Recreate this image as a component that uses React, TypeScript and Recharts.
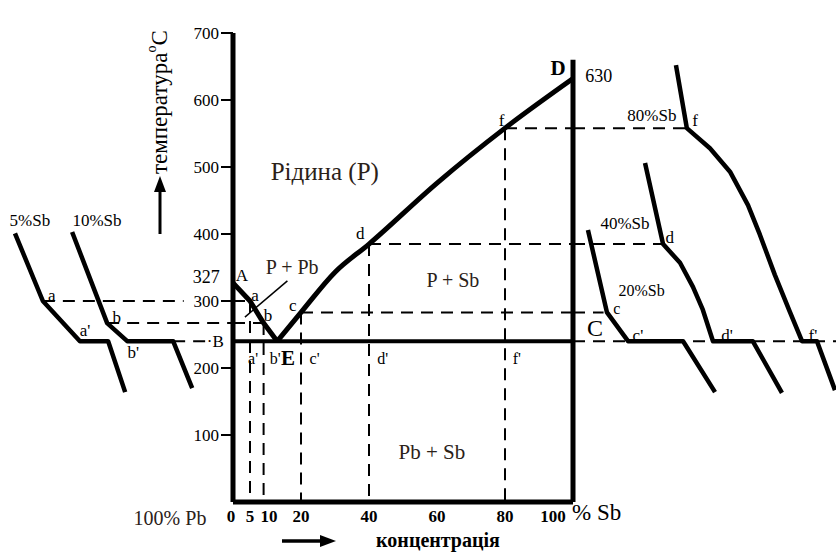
import React from "react";
import { ComposedChart, Line, XAxis, YAxis, ReferenceDot } from "recharts";

const FONT = "'Liberation Serif', 'Times New Roman', serif";
const INK = "#000";
const BROWN = "#2b2118";

// Main phase diagram (x = % Sb, T = temperature °C)
const ticksX = [0, 5, 10, 20, 40, 60, 80, 100];
const ticksY = [100, 200, 300, 400, 500, 600, 700];
const liquidusLeft = [
  { x: 0, T: 327 },
  { x: 5, T: 300 },
  { x: 9, T: 267 },
  { x: 13, T: 240 },
];
const liquidusRight = [
  { x: 13, T: 240 },
  { x: 20, T: 283 },
  { x: 30, T: 343 },
  { x: 40, T: 385 },
  { x: 60, T: 476 },
  { x: 80, T: 558 },
  { x: 100, T: 632 },
];
const eutectic = [
  { x: 0, T: 240 },
  { x: 100, T: 240 },
];
const baseLine = [
  { x: 0, T: 0 },
  { x: 100, T: 0 },
];
const sbLine = [
  { x: 100, T: 0 },
  { x: 100, T: 660 },
];
const leader = [
  { x: 3.5, T: 276 },
  { x: 16, T: 330 },
];
const compositions = [
  { x: 5, T: 300 },
  { x: 9, T: 267 },
  { x: 20, T: 283 },
  { x: 40, T: 385 },
  { x: 80, T: 558 },
];
const mainHoriz = [
  [{ x: 0, T: 300 }, { x: 5, T: 300 }],
  [{ x: 0, T: 267 }, { x: 9, T: 267 }],
  [{ x: 20, T: 283 }, { x: 100, T: 283 }],
  [{ x: 40, T: 385 }, { x: 100, T: 385 }],
  [{ x: 80, T: 558 }, { x: 100, T: 558 }],
];
const mainLabels = [
  { x: 27, T: 493, text: "Рідина (P)", size: 25, color: BROWN },
  { x: 17.4, T: 351, text: "P + Pb", size: 20, color: BROWN },
  { x: 64.7, T: 331, text: "P + Sb", size: 20, color: BROWN },
  { x: 58.5, T: 75, text: "Pb + Sb", size: 21, color: BROWN },
  { x: 2.6, T: 339, text: "A", size: 17, color: INK },
  { x: 6.5, T: 309, text: "a", size: 17, color: INK },
  { x: 10.3, T: 279, text: "b", size: 17, color: INK },
  { x: 17.6, T: 294, text: "c", size: 17, color: INK },
  { x: 37.4, T: 401, text: "d", size: 17, color: INK },
  { x: 79, T: 570, text: "f", size: 17, color: INK },
  { x: 95.6, T: 648, text: "D", size: 21, color: INK, bold: true },
  { x: 16.2, T: 215, text: "E", size: 21, color: INK, bold: true },
  { x: 5.9, T: 215, text: "a'", size: 16, color: INK },
  { x: 12.4, T: 215, text: "b'", size: 16, color: INK },
  { x: 24, T: 215, text: "c'", size: 16, color: INK },
  { x: 44, T: 215, text: "d'", size: 16, color: INK },
  { x: 83.5, T: 215, text: "f'", size: 16, color: INK },
];

// Left cooling curves (t = time, T = temperature °C)
const cool5 = [
  { t: 4.4, T: 401 },
  { t: 12.6, T: 300 },
  { t: 23.5, T: 240 },
  { t: 31.8, T: 240 },
  { t: 36.8, T: 164 },
];
const cool10 = [
  { t: 21.2, T: 403 },
  { t: 31.5, T: 267 },
  { t: 37.4, T: 240 },
  { t: 50.9, T: 240 },
  { t: 56.5, T: 170 },
];
const leftDashed = [
  [{ t: 12.6, T: 300 }, { t: 54, T: 300 }],
  [{ t: 31.5, T: 267 }, { t: 68.5, T: 267 }],
  [{ t: 50.9, T: 240 }, { t: 61.5, T: 240 }],
];
const leftLabels = [
  { t: 8.8, T: 421, text: "5%Sb", size: 17 },
  { t: 28.5, T: 421, text: "10%Sb", size: 17 },
  { t: 15.2, T: 309, text: "a", size: 17 },
  { t: 25, T: 257, text: "a'", size: 17 },
  { t: 34.3, T: 276, text: "b", size: 17 },
  { t: 39.2, T: 224, text: "b'", size: 17 },
  { t: 60.6, T: 336, text: "327", size: 18 },
  { t: 63.3, T: 240, text: "·B", size: 17 },
];

// Right cooling curves
const cool20 = [
  { t: 4.4, T: 406 },
  { t: 10, T: 283 },
  { t: 16.2, T: 240 },
  { t: 32.4, T: 240 },
  { t: 41.8, T: 164 },
];
const cool40 = [
  { t: 21.2, T: 506 },
  { t: 26.5, T: 385 },
  { t: 31.5, T: 357 },
  { t: 35.3, T: 321 },
  { t: 38.2, T: 287 },
  { t: 41.2, T: 240 },
  { t: 52.9, T: 240 },
  { t: 61.5, T: 163 },
];
const cool80 = [
  { t: 30.3, T: 652 },
  { t: 33.5, T: 558 },
  { t: 40.3, T: 528 },
  { t: 46.2, T: 493 },
  { t: 51.5, T: 443 },
  { t: 55, T: 399 },
  { t: 59.4, T: 339 },
  { t: 63.8, T: 284 },
  { t: 67.4, T: 240 },
  { t: 71.8, T: 240 },
  { t: 77.1, T: 167 },
];
const rightDashed = [
  [{ t: 0, T: 558 }, { t: 33.5, T: 558 }],
  [{ t: 0, T: 385 }, { t: 26.5, T: 385 }],
  [{ t: 0, T: 283 }, { t: 9, T: 283 }],
  [{ t: 0, T: 240 }, { t: 77.4, T: 240 }],
];
const rightLabels = [
  { t: 7.6, T: 637, text: "630", size: 18 },
  { t: 23.2, T: 578, text: "80%Sb", size: 17 },
  { t: 35.9, T: 570, text: "f", size: 17 },
  { t: 15.3, T: 416, text: "40%Sb", size: 17 },
  { t: 28.5, T: 396, text: "d", size: 17 },
  { t: 20.2, T: 316, text: "20%Sb", size: 16 },
  { t: 12.9, T: 289, text: "c", size: 16 },
  { t: 6.5, T: 260, text: "C", size: 24 },
  { t: 19.1, T: 249, text: "c'", size: 17 },
  { t: 45.3, T: 249, text: "d'", size: 17 },
  { t: 70.6, T: 249, text: "f'", size: 17 },
];

const W = 836;
const H = 553;
const TOP = 33;
const BOTTOM = 51;
const DASH = "12 8";

const textShape = (text: string, size: number, color: string, bold?: boolean) => (p: any) => (
  <text
    x={p.cx}
    y={p.cy}
    dy="0.35em"
    textAnchor="middle"
    fontSize={size}
    fontFamily={FONT}
    fontWeight={bold ? "bold" : "normal"}
    fill={color}
  >
    {text}
  </text>
);

const XTick = (props: any) => {
  const { x, payload } = props;
  const v = payload.value;
  const dx = v === 100 ? -20 : v === 10 ? 2 : v === 0 ? -2 : 0;
  return (
    <text
      x={x + dx}
      y={502}
      dy={20}
      textAnchor="middle"
      fontSize={17}
      fontWeight="bold"
      fontFamily={FONT}
      fill={INK}
    >
      {v}
    </text>
  );
};

const solid = (key: string, data: any[], width: number, curve: any = "linear") => (
  <Line
    key={key}
    data={data}
    dataKey="T"
    type={curve}
    stroke={INK}
    strokeWidth={width}
    strokeLinejoin="round"
    strokeLinecap="butt"
    dot={false}
    activeDot={false}
    isAnimationActive={false}
  />
);

const dashed = (key: string, data: any[], width = 2) => (
  <Line
    key={key}
    data={data}
    dataKey="T"
    type="linear"
    stroke={INK}
    strokeWidth={width}
    strokeDasharray={DASH}
    dot={false}
    activeDot={false}
    isAnimationActive={false}
  />
);

export default function App() {
  return (
    <div
      style={{
        position: "absolute",
        left: 0,
        top: 0,
        width: W,
        height: H,
        background: "#fff",
        overflow: "hidden",
      }}
    >
      {/* Main phase diagram */}
      <div style={{ position: "absolute", left: 0, top: 0 }}>
        <ComposedChart
          width={W}
          height={H}
          margin={{ top: TOP, right: W - 573, bottom: BOTTOM - 30, left: 233 - 40 }}
        >
          <XAxis
            type="number"
            dataKey="x"
            domain={[0, 100]}
            ticks={ticksX}
            axisLine={false}
            tickLine={false}
            height={30}
            tick={<XTick />}
            interval={0}
          />
          <YAxis
            type="number"
            domain={[0, 700]}
            ticks={ticksY}
            width={40}
            axisLine={{ stroke: INK, strokeWidth: 5 }}
            tickLine={{ stroke: INK, strokeWidth: 2 }}
            tickSize={12}
            tickMargin={2}
            tick={{ fontSize: 17, fill: INK, fontFamily: FONT }}
            interval={0}
          />
          {compositions.map((c, i) =>
            dashed("v" + i, [
              { x: c.x, T: c.T },
              { x: c.x, T: 0 },
            ])
          )}
          {mainHoriz.map((seg, i) => dashed("h" + i, seg))}
          {solid("eut", eutectic, 4)}
          {solid("base", baseLine, 5)}
          {solid("sb", sbLine, 5)}
          {solid("liqL", liquidusLeft, 5)}
          {solid("liqR", liquidusRight, 5, "monotoneX")}
          {solid("lead", leader, 1.5)}
          {mainLabels.map((l, i) => (
            <ReferenceDot
              key={"ml" + i}
              x={l.x}
              y={l.T}
              r={0}
              ifOverflow="visible"
              shape={textShape(l.text, l.size, l.color, (l as any).bold)}
            />
          ))}
        </ComposedChart>
      </div>

      {/* Left cooling curves */}
      <div style={{ position: "absolute", left: 0, top: 0 }}>
        <ComposedChart width={233} height={H} margin={{ top: TOP, right: 0, bottom: BOTTOM, left: 0 }}>
          <XAxis type="number" dataKey="t" domain={[0, 68.5]} hide />
          <YAxis type="number" domain={[0, 700]} hide />
          {leftDashed.map((seg, i) => dashed("ld" + i, seg))}
          {solid("c5", cool5, 4.5)}
          {solid("c10", cool10, 4.5)}
          {leftLabels.map((l, i) => (
            <ReferenceDot
              key={"ll" + i}
              x={l.t}
              y={l.T}
              r={0}
              ifOverflow="visible"
              shape={textShape(l.text, l.size, INK)}
            />
          ))}
        </ComposedChart>
      </div>

      {/* Right cooling curves */}
      <div style={{ position: "absolute", left: 573, top: 0 }}>
        <ComposedChart width={W - 573} height={H} margin={{ top: TOP, right: 0, bottom: BOTTOM, left: 0 }}>
          <XAxis type="number" dataKey="t" domain={[0, 77.4]} hide />
          <YAxis type="number" domain={[0, 700]} hide />
          {rightDashed.map((seg, i) => dashed("rd" + i, seg))}
          {solid("c20", cool20, 4.5)}
          {solid("c40", cool40, 4.5)}
          {solid("c80", cool80, 4.5)}
          {rightLabels.map((l, i) => (
            <ReferenceDot
              key={"rl" + i}
              x={l.t}
              y={l.T}
              r={0}
              ifOverflow="visible"
              shape={textShape(l.text, l.size, INK)}
            />
          ))}
        </ComposedChart>
      </div>

      {/* Axis titles and arrows */}
      <svg
        width={W}
        height={H}
        style={{ position: "absolute", left: 0, top: 0, pointerEvents: "none" }}
      >
        <g fontFamily={FONT} fill={INK}>
          <text
            x={167}
            y={174}
            transform="rotate(-90 167 174)"
            fontSize={23}
            textAnchor="start"
          >
            температура
            <tspan fontSize={14} dy={-11}>o</tspan>
            <tspan fontSize={23} dy={11}>C</tspan>
          </text>
          <line x1={160} y1={234} x2={160} y2={188} stroke={INK} strokeWidth={3} />
          <polygon points="160,176 154,192 166,192" fill={INK} />

          <text x={170} y={518} dy="0.35em" textAnchor="middle" fontSize={20} fill={BROWN}>
            100% Pb
          </text>
          <text x={572} y={512} dy="0.35em" textAnchor="start" fontSize={23}>
            % Sb
          </text>
          <line x1={282} y1={541} x2={322} y2={541} stroke={INK} strokeWidth={3.5} />
          <polygon points="336,541 320,535 320,547" fill={INK} />
          <text x={438} y={540} dy="0.33em" textAnchor="middle" fontSize={20} fontWeight="bold">
            концентрація
          </text>
        </g>
      </svg>
    </div>
  );
}
